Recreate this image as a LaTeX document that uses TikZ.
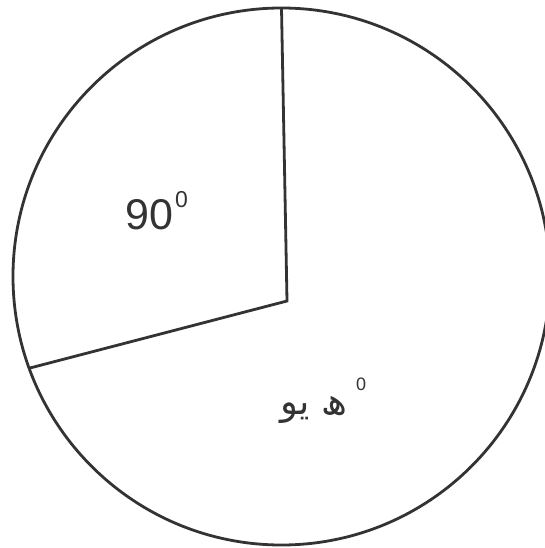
\documentclass[tikz,border=0pt]{standalone}
\usepackage{fontspec}
\setmainfont{Liberation Sans}
\newfontfamily\arabicfont[Script=Arabic]{DejaVu Sans}
\TeXXeTstate=1
\definecolor{ink}{HTML}{333333}
\begin{document}
\begin{tikzpicture}[x=1pt,y=-1pt,
  edge/.style={draw=ink,line width=2.8pt},
  lbl/.style={inner sep=0pt,text=ink,anchor=base west}]
\useasboundingbox (0,0) rectangle (545,548);
\clip (0,0) rectangle (545,548);
\fill[white] (0,0) rectangle (545,548);
\coordinate (o) at (281.5,276.5);
\coordinate (c) at (287,301);
\coordinate (t) at (281.5,8);
\coordinate (l) at (30,368);
\draw[edge] (o) circle[radius=268.5];
\draw[edge,line join=miter] (t) -- (c) -- (l);
\node[lbl,font=\fontsize{43}{43}\selectfont] (n90) at (125,229) {90};
\node[lbl,font=\fontsize{23}{23}\selectfont] (s90) at (175,207) {0};
\node[lbl,font=\fontsize{37}{37}\selectfont] (ar) at (280,414) {\arabicfont\beginR ھ يو\endR};
\node[lbl,font=\fontsize{18}{18}\selectfont] (sar) at (356,390) {0};
\end{tikzpicture}
\end{document}
